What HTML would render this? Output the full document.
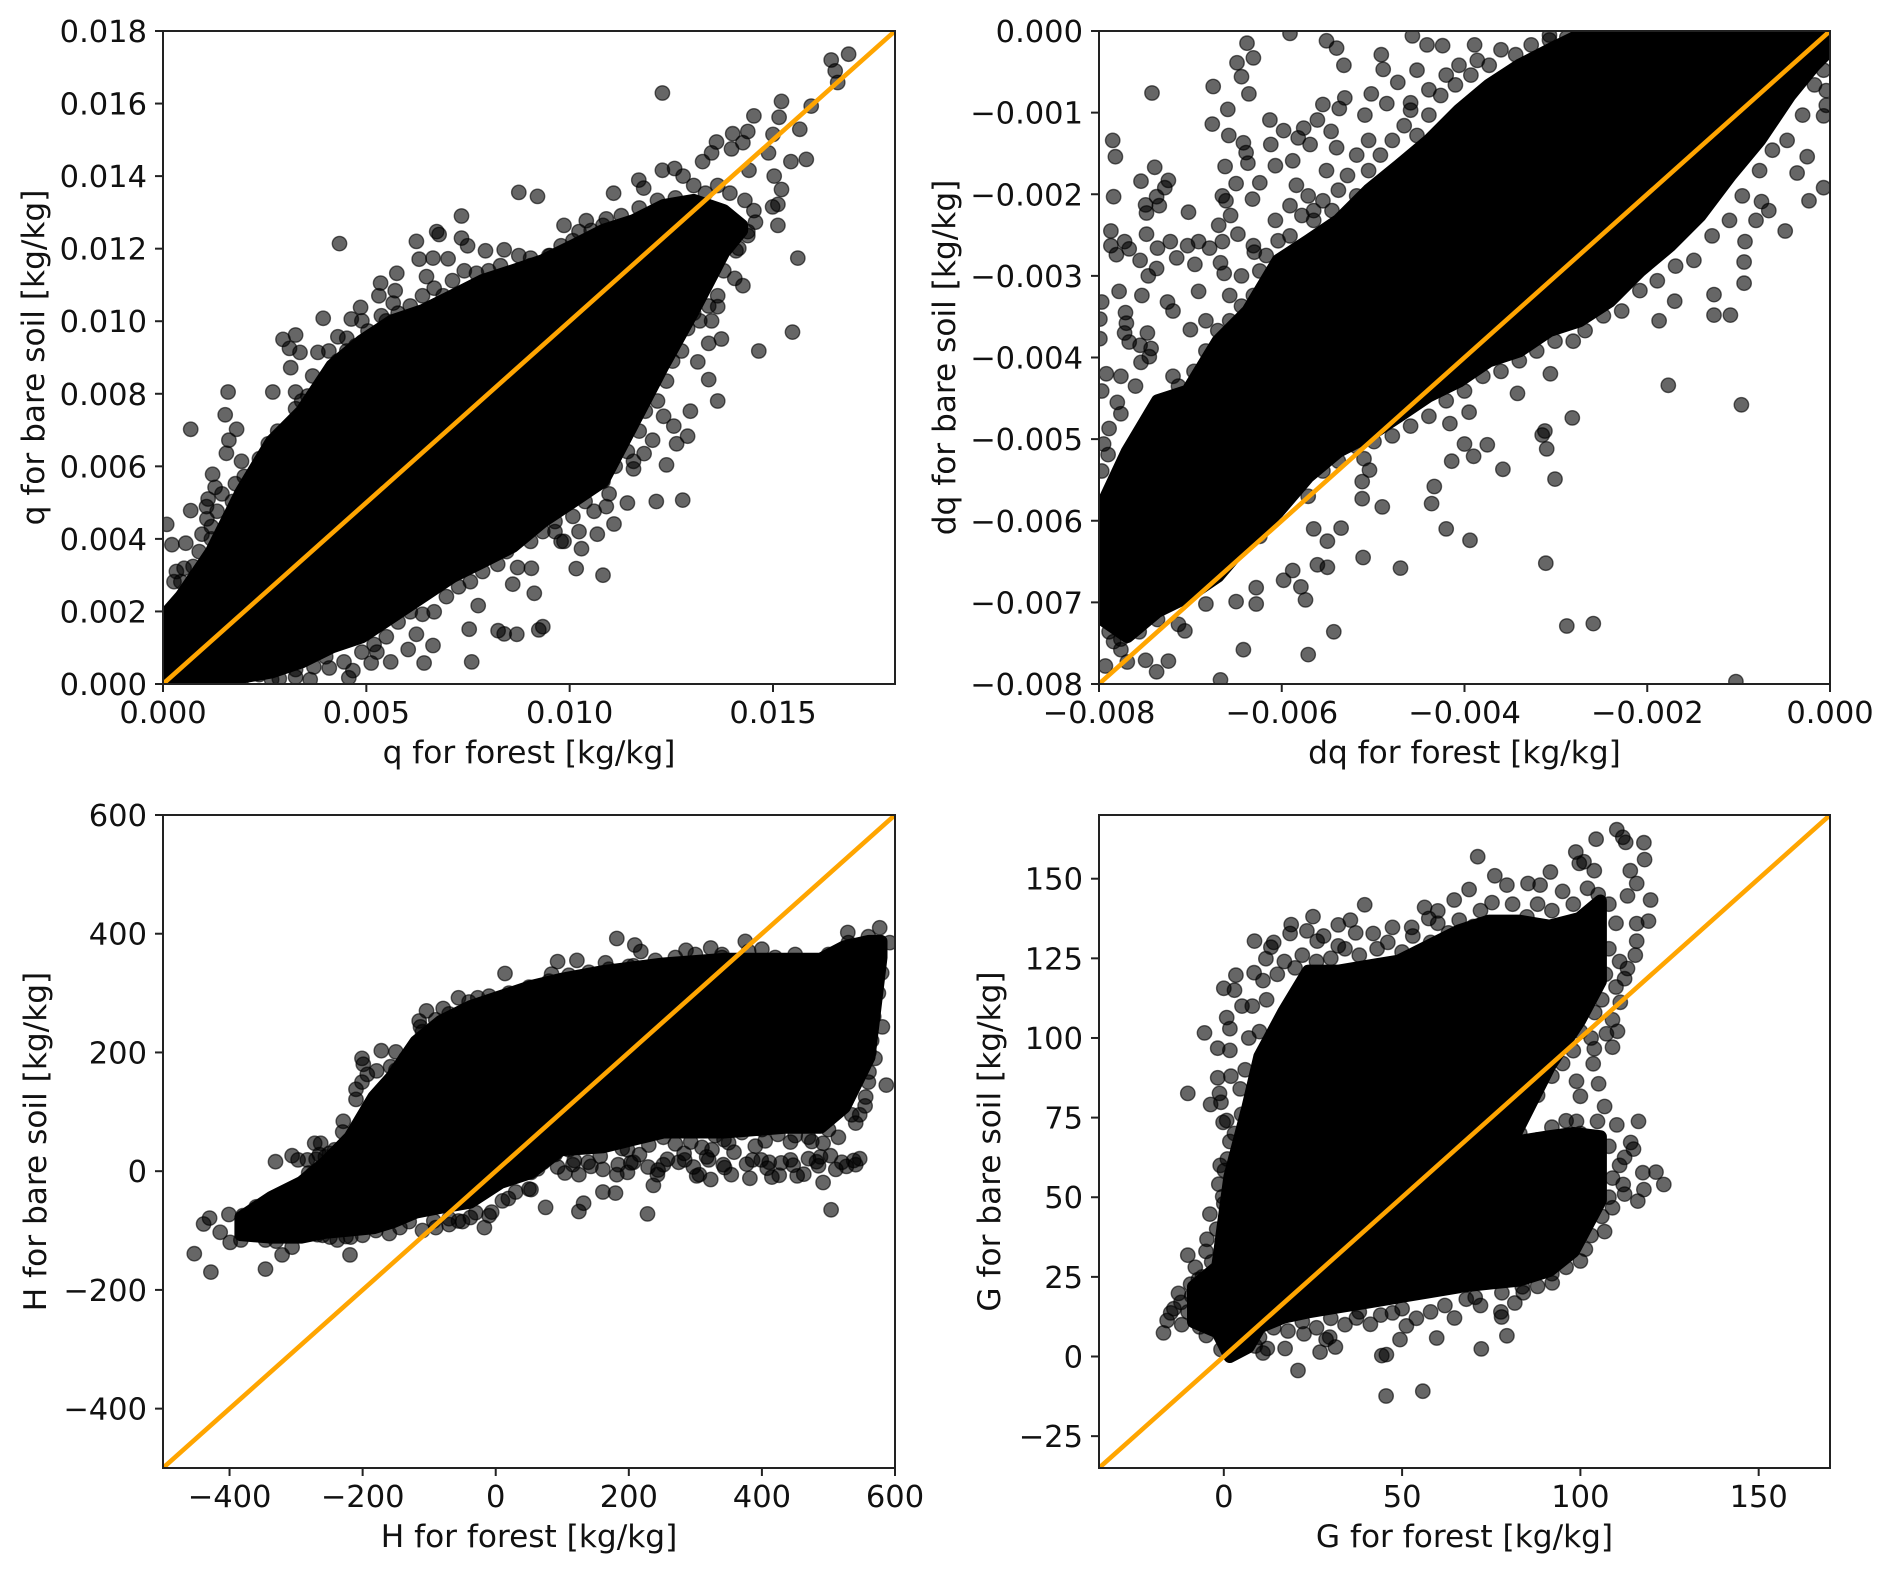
<!DOCTYPE html>
<html lang="en">
<head>
<meta charset="utf-8">
<title>Forest vs bare soil scatter comparison</title>
<style>
html,body{margin:0;padding:0;background:#fff;}
svg{display:block;}
text{font-family:"DejaVu Sans","Liberation Sans",sans-serif;fill:#111;}
</style>
</head>
<body>
<svg id="figure" xmlns="http://www.w3.org/2000/svg" width="1892" height="1572" viewBox="0 0 1892 1572"></svg>
<script>
/* ---------- q panel ---------- */
const qTicksX = [0, 0.005, 0.010, 0.015];
const qTickLabelsX = ["0.000","0.005","0.010","0.015"];
const qTicksY = [0,0.002,0.004,0.006,0.008,0.010,0.012,0.014,0.016,0.018];
const qTickLabelsY = ["0.000","0.002","0.004","0.006","0.008","0.010","0.012","0.014","0.016","0.018"];
const qCoreX = [0,.00044,.00119,.00193,.00267,.00341,.00415,.00489,.00563,.00638,.00712,.00786,.0086,.00934,.01008,.01082,.01157,.01231,.01305,.01379,.01423];
const qCoreHigh = [.00185,.00241,.00365,.00531,.00669,.00752,.00877,.00946,.01001,.01029,.0107,.01112,.01139,.01167,.01208,.0125,.01277,.01319,.01333,.01305,.01264];
const qCoreLow = [0,0,0,.00019,.00033,.00061,.00102,.0013,.00185,.00241,.00296,.00337,.00379,.00448,.00503,.00559,.0072,.0088,.0103,.0119,.0125];
const qForest = [.01686,.01643,.01653,.01659,.01228,.01521,.01594,.01515,.01453,.01566,.015,.01438,.01401,.01361,.01349,.01327,.01398,.01426,.01489,.01544,.01582,.01441,.01503,.01521,.01512,.01499,.01457,.01512,.01561,.01228,.01258,.01279,.0117,.01182,.00875,.00921,.01108,
.00434,.00623,.00673,.00679,.00734,.00734,.00749,.00793,.00839,.0063,.00664,.00701,.00648,.00575,.00535,.00531,.00571,.00566,.00486,.00394,.00463,.00537,.00295,.00326,.00311,.00337,.00381,.00314,.00408,.0043,.00452,.00368,.0016,.0027,.00153,.00068,.00181,.00162,.00156,.00326,.00341,.00259,.00193,.00122,.00128,.00178,.00111,.00107,.00068,.00145,.00108,.00009,.00022,.00056,.00096,.00033,.00027,.00052,
.01465,.01548,.01373,.01342,.01315,.01342,.01364,.01297,.0129,.01263,.01238,.01278,.01213,.01142,.01109,.01082,.01016,.01029,.01068,.00906,.00872,.0086,.00913,.00775,.00753,.00824,.0087,.00839,.00924,.00934,.00664,.00759,.00642,.0056,.00526,.00603,.00623,.00457,.00362,.00286,.00467,.00512,.00409,.00326,
.01406,.01426,.01305,.01349,.01364,.01416,.01438,.01256,.01204,.01183,.01157,.01097,.0106,.00986,.00964,.00986,.01023,.01041,.0109,.00952,.00904];
const qBare = [.01736,.0172,.0169,.01658,.01629,.01606,.01593,.01562,.01566,.01529,.01515,.01523,.01517,.01494,.01464,.0144,.01475,.01492,.01464,.0144,.01446,.01416,.014,.01363,.01322,.01315,.01273,.01264,.01174,.01416,.01421,.014,.01389,.01367,.01355,.01344,.01353,
.01214,.0122,.01247,.01239,.0129,.01229,.01208,.01194,.01197,.01171,.01174,.01172,.01123,.01132,.01105,.0107,.01084,.0105,.01038,.01008,.01006,.01015,.0095,.00962,.00925,.00914,.00914,.00872,.00918,.00957,.00953,.00849,.00805,.00805,.00742,.00702,.00702,.00672,.00636,.00805,.0078,.00662,.00614,.00578,.00542,.00552,.0051,.00489,.00478,.00524,.00455,.0044,.00384,.00388,.00413,.0031,.00282,.00319,
.00918,.0097,.00951,.00939,.00888,.00839,.0078,.00752,.00683,.00662,.00604,.00507,.00503,.00499,.00441,.003,.00318,.00373,.00413,.00319,.00321,.00275,.0025,.00216,.00151,.00147,.00137,.00138,.00149,.00158,.00106,.00061,.00058,.00061,.00088,.00095,.00137,.00017,.00012,.00015,.00037,.00058,.00044,.0004,
.01118,.01098,.01022,.01001,.0104,.01201,.01247,.00711,.00672,.00635,.00593,.00524,.00476,.00393,.0042,.01264,.01247,.01277,.01282,.01181,.01153];
const qEdgeForest = [.00044,.00074,.00089,.00119,.00148,.00178,.00119,.00133,.00171,.00193,.00222,.002,.00237,.00267,.00297,.00282,.00311,.00341,.00326,.00356,.00385,.00408,.0043,.00415,.00452,.00474,.00504,.00489,.00549,.00578,.00608,.00638,.00667,.00689,.00712,.00741,.00771,.00801,.0083,.00875,.00904,.00949,.00979,.01008,.01053,.01082,.01127,.01171,.01216,.0126,.01305,.01334,.01364,.01394,.01431,.01453,
.01438,.01409,.01379,.01364,.01342,.0132,.0129,.01275,.01253,.01238,.01216,.01231,.01186,.01171,.01142,.01157,.01112,.01082,.0109,.01038,.01008,.01023,.00964,.00979,.00934,.00904,.00875,.00845,.00823,.00786,.00756,.00727,.00697,.00667,.00638,.00608,.00578,.00549,.00519,.00489,.00445,.004,.00371,.00326,.00267,.00237,.00193,.00163,.00119];
const qEdgeBare = [.00282,.00324,.00365,.004,.0042,.00448,.00434,.00476,.00503,.00524,.00552,.00572,.00621,.00635,.00669,.00697,.00711,.00738,.00759,.00794,.00814,.00849,.0089,.0087,.00918,.00932,.00973,.01001,.01001,.01022,.01042,.0107,.01091,.0107,.01112,.01139,.01132,.01139,.01153,.01181,.01174,.01181,.01208,.01222,.0125,.01264,.01291,.01312,.01333,.0134,.01374,.01353,.01374,.01353,.01333,.01305,
.01236,.01194,.01139,.0107,.01042,.01001,.0098,.00918,.0089,.00835,.0078,.00738,.00752,.00697,.00641,.00614,.006,.00559,.00489,.00503,.00462,.0042,.00448,.00393,.0042,.00393,.0042,.00365,.0033,.0031,.00282,.00268,.00241,.00199,.00192,.00199,.00171,.0013,.00109,.00088,.00061,.00075,.00047,.00019,.00012,.00026,.00012,.00012,.00012];

/* ---------- dq panel ---------- */
const dqTicksX = [-0.008,-0.006,-0.004,-0.002,0];
const dqTickLabelsX = ["\u22120.008","\u22120.006","\u22120.004","\u22120.002","0.000"];
const dqTicksY = [-0.008,-0.007,-0.006,-0.005,-0.004,-0.003,-0.002,-0.001,0];
const dqTickLabelsY = ["\u22120.008","\u22120.007","\u22120.006","\u22120.005","\u22120.004","\u22120.003","\u22120.002","\u22120.001","0.000"];
const dqCoreX = [-.008,-.00769,-.00736,-.00703,-.0067,-.00637,-.00604,-.00571,-.00538,-.00505,-.00472,-.00439,-.00406,-.00373,-.0034,-.00307,-.00274,-.00241,-.00208,-.00175,-.00142,-.00109,-.00077,-.00044,-.00017,0];
const dqCoreHigh = [-.00589,-.00515,-.00453,-.00441,-.0038,-.00343,-.00281,-.00257,-.00232,-.00195,-.00165,-.00134,-.00097,-.00066,-.00042,-.00023,-.00005,0,0,0,0,0,0,0,0,0];
const dqCoreLow = [-.00718,-.00742,-.00711,-.00693,-.00668,-.00625,-.00589,-.00546,-.00515,-.00496,-.00472,-.00447,-.00429,-.00404,-.00392,-.00367,-.00355,-.00331,-.00294,-.00263,-.00226,-.00177,-.00134,-.00079,-.00042,-.00023];
const dqForest = [-.00742,-.00785,-.00782,-.00739,-.00784,-.00754,-.00724,-.00728,-.00749,-.00748,-.00737,-.00734,-.00702,-.00787,-.00748,-.00787,-.00781,-.00772,-.00767,-.00755,-.00736,-.00722,-.00715,-.00703,-.00691,-.00695,-.00679,-.00737,-.00746,-.00778,-.00753,-.00797,-.00799,-.00799,-.00771,-.0077,-.00772,-.00767,-.00747,-.00755,-.00743,-.00754,-.00745,-.00792,-.00776,-.00797,-.0076,-.0078,-.00776,-.00789,-.00795,-.0079,-.00797,-.00787,-.00789,-.00719,-.00719,-.00725,-.007,-.00691,
-.00675,-.00659,-.00676,-.00658,-.00638,-.00649,-.00631,-.00644,-.00636,-.00642,-.00639,-.00637,-.00662,-.0065,-.00665,-.00661,-.00632,-.00656,-.00669,-.00648,-.00665,-.00667,-.00663,-.0063,-.00591,-.00551,-.0054,-.00532,-.00531,-.00555,-.00537,-.00613,-.00598,-.00612,-.00576,-.00561,-.00582,-.00569,-.00546,-.00491,-.00489,-.00473,-.00457,-.00441,-.00424,-.00485,-.00502,-.00509,-.0054,-.00607,-.00588,-.00624,-.00551,-.00565,-.00452,-.00406,-.00389,-.00459,
-.00007,-.00023,-.00049,-.00036,-.00025,-.00007,-.00004,-.00075,-.00067,-.00081,-.00093,-.00094,-.00094,-.00127,-.00127,-.00109,-.0017,-.00187,-.00177,-.00097,-.00282,-.00312,-.00342,-.00306,-.00315,-.0031,-.00375,-.00301,-.00358,-.0039,-.004,-.00414,-.00395,-.00416,-.00433,-.00436,-.0042,-.00394,-.00311,-.0047,-.00511,-.0049,-.00512,-.00512,-.00504,-.0051,-.00535,-.00565,-.0055,-.00561,-.0055,-.00588,-.00598,-.00579,-.00574,-.00628,-.0065,-.00628,-.00683,-.00706,-.00713,-.00543,-.00571,-.00642,-.00288,-.00259,-.00103,-.00667,-.00724,-.00737,-.00793,-.00769,-.00749,-.00776,-.00784,-.00736,-.0072];
const dqBare = [-.00076,-.00134,-.00154,-.00167,-.00203,-.00184,-.00183,-.00192,-.00213,-.00223,-.00203,-.00214,-.00222,-.00245,-.00249,-.00263,-.00274,-.00258,-.00267,-.00281,-.00266,-.00258,-.00278,-.00263,-.00258,-.00286,-.00266,-.00291,-.003,-.00319,-.00324,-.00332,-.00353,-.00377,-.00345,-.00358,-.0037,-.00381,-.0037,-.00385,-.00389,-.00406,-.00399,-.0042,-.00423,-.00441,-.00435,-.00455,-.00469,-.00487,-.00506,-.00519,-.00539,-.00564,-.00581,-.00423,-.00343,-.00332,-.00366,-.00319,
-.00068,-.00096,-.00114,-.00128,-.00015,-.00039,-.00033,-.00056,-.00077,-.00137,-.00149,-.00162,-.00166,-.00187,-.00202,-.00208,-.00206,-.00226,-.00238,-.00249,-.00258,-.00284,-.00297,-.00271,-.00003,-.00012,-.00021,-.00042,-.00082,-.0009,-.00095,-.00109,-.00122,-.00139,-.00119,-.00109,-.00131,-.00139,-.00123,-.00029,-.00047,-.00063,-.00006,-.00017,-.00018,-.00089,-.00077,-.00103,-.00143,-.00165,-.00159,-.00186,-.00171,-.0022,-.00048,-.00042,-.00017,-.00088,
-.00192,-.00208,-.00245,-.00174,-.00154,-.00104,-.00073,-.00209,-.0022,-.00232,-.00258,-.00283,-.00309,-.00323,-.00348,-.00348,-.00331,-.00355,-.00434,-.00458,-.00474,-.0049,-.00444,-.0042,-.00495,-.00512,-.00507,-.00549,-.00537,-.00521,-.00506,-.00527,-.00467,-.00481,-.00558,-.00579,-.0061,-.00624,-.00652,-.00658,-.00645,-.00583,-.00573,-.00552,-.00538,-.00524,-.00609,-.0061,-.00625,-.00654,-.00657,-.00661,-.00673,-.00681,-.00697,-.00682,-.00699,-.00702,-.00702,-.00735,-.00727,-.00736,-.00764,-.00758,-.00729,-.00726,-.00797,-.00795,-.00772,-.00785,-.00778,-.00773,-.00771,-.00758,-.00748,-.00721,-.00678];
const dqEdgeForest = [-.00785,-.00776,-.00762,-.00749,-.00736,-.00726,-.00713,-.00696,-.00683,-.0067,-.00683,-.00657,-.00644,-.00657,-.00631,-.00644,-.00624,-.00604,-.00617,-.00631,-.00591,-.00607,-.00578,-.00591,-.00565,-.00555,-.00545,-.00538,-.00571,-.00584,-.00518,-.00505,-.00528,-.00518,-.00492,-.00479,-.00505,-.00466,-.00452,-.00439,-.00459,-.00426,-.0041,-.00439,-.0042,-.00393,-.00373,-.00386,-.0036,-.00344,-.00327,-.00307,-.00288,-.00334,-.00307,-.00281,
-.00789,-.00776,-.00756,-.00743,-.00723,-.00703,-.0069,-.0067,-.00657,-.00644,-.00624,-.00611,-.00591,-.00571,-.00555,-.00538,-.00518,-.00499,-.00479,-.00459,-.00439,-.0042,-.004,-.0038,-.0036,-.0034,-.00321,-.00301,-.00281,-.00268,-.00248,-.00228,-.00208,-.00189,-.00169,-.00149,-.00129,-.0011,-.00096,-.00077,-.00063,-.00047,-.0003,-.00017,-.00007,-.00004];
const dqEdgeBare = [-.00582,-.00552,-.00533,-.00503,-.00478,-.00453,-.00435,-.00417,-.00392,-.00367,-.00355,-.00355,-.00337,-.00324,-.00324,-.003,-.00294,-.00257,-.00275,-.00263,-.00251,-.00232,-.00226,-.00214,-.00232,-.00208,-.0022,-.00195,-.00202,-.00189,-.00202,-.00171,-.00177,-.00152,-.00152,-.00134,-.00134,-.00116,-.00128,-.00103,-.00097,-.00079,-.00066,-.00072,-.00054,-.00054,-.00042,-.00036,-.00023,-.00029,-.00017,-.00011,-.00008,-.00042,-.00005,-.00011,
-.00736,-.00745,-.00736,-.00708,-.00699,-.00681,-.00662,-.00656,-.00638,-.00625,-.00619,-.00595,-.00558,-.0057,-.00539,-.00527,-.00509,-.00503,-.00496,-.00484,-.00472,-.00453,-.00441,-.00423,-.00417,-.00404,-.00392,-.0038,-.0038,-.00367,-.00349,-.00343,-.00318,-.00306,-.00288,-.00281,-.00251,-.00232,-.00202,-.00171,-.00146,-.00134,-.00103,-.00066,-.00048,-.00091];

/* ---------- H panel ---------- */
const hTicksX = [-400,-200,0,200,400,600];
const hTickLabelsX = ["\u2212400","\u2212200","0","200","400","600"];
const hTicksY = [-400,-200,0,200,400,600];
const hTickLabelsY = ["\u2212400","\u2212200","0","200","400","600"];
const hCoreX = [-383,-337,-292,-256,-219,-183,-156,-120,-83,-38,7,53,98,161,252,343,434,488,524,561,579];
const hCoreHigh = [-78,-44,-19,15,57,125,159,218,252,277,294,311,323,336,349,357,357,357,378,387,387];
const hCoreLow = [-107,-111,-111,-103,-99,-95,-86,-69,-61,-52,-19,-2,36,41,66,66,74,74,108,192,360];
const hForest = [-453,-428,-346,-321,-306,-219,-439,-430,-414,-401,-399,-383,-346,-268,-249,-238,-218,-144,-331,-306,-297,-283,-272,-263,-281,-256,-230,-229,-201,-210,-199,-193,-179,-172,-150,-158,-210,-201,-115,-113,-104,-79,-56,-27,14,93,122,84,182,209,218,286,323,375,400,340,165,207,
577,529,592,580,581,587,541,515,492,547,541,520,511,488,492,504,485,453,470,443,429,411,415,399,386,382,354,323,284,237,228,180,75,125,132,-17,-38,-70,-93,-56,-6,19,53,161,
71,93,116,139,161,184,207,229,252,275,297,320,342,35,53,89,125,198,243,306,
561,556,561,561,556,547,470,443,424,405,343,325,293,252,198,-242,-265,-201];
const hBare = [-139,-170,-165,-141,-128,-141,-89,-79,-103,-73,-120,-116,-116,-107,-111,-116,-111,-95,16,26,19,19,47,47,-3,24,66,84,190,138,180,163,169,203,201,176,121,150,253,243,270,274,292,292,333,353,355,332,392,381,370,372,376,387,374,365,351,346,
410,402,385,334,243,145,81,57,47,21,11,15,3,24,-19,-65,9,-8,21,19,14,15,-10,19,19,-12,-6,-14,19,-24,-72,-37,-61,-68,-54,-95,-78,-90,-84,-84,-69,-46,-31,-35,
15,7,11,15,3,11,15,7,11,15,7,19,11,24,-2,28,-6,-2,-6,-6,
294,243,201,167,125,95,57,49,62,51,53,36,49,57,36,36,28,53];
const hEdgeForest = [22,38,63,78,104,118,143,157,182,203,216,244,258,283,302,317,344,358,377,408,426,447,463,482,503,527,538,30,70,110,150,190,230,270,310,350,390,
-380,-360,-345,-330,-310,-290,-275,-260,-240,-225,-200,-180,-160,-130,-110,-90,-70,-50,-30,-10,10,30,50,-270,-250,-230,-215,-200,-190,-170,-150,-135,-110,-90,-70,-40,-10,20,50,80,110,140,170,200,240,270,300,340,380,420,450,500,530,560,575,570,575,568,565,570,560,555,535,500,475,450,400,370,330];
const hEdgeBare = [12,26,4,22,-3,18,8,25,-6,14,28,2,20,30,-8,24,6,32,12,5,-7,10,-5,16,26,8,18,40,42,36,45,38,44,46,40,48,42,
-75,-60,-100,-118,-40,-105,-5,-108,-90,-110,-108,-100,-105,-85,-100,-95,-80,-85,-70,-75,-50,-35,-30,20,30,10,40,65,100,130,170,190,235,255,265,285,295,300,310,320,330,335,340,345,355,360,365,360,370,360,365,365,385,395,375,340,300,260,220,190,150,110,95,70,50,60,70,65,60];

/* ---------- G panel ---------- */
const gTicksX = [0,50,100,150];
const gTickLabelsX = ["0","50","100","150"];
const gTicksY = [-25,0,25,50,75,100,125,150];
const gTickLabelsY = ["\u221225","0","25","50","75","100","125","150"];
const gMainX = [-8.5,-1.7,1.7,6.8,10.1,16.9,23.7,32.1,40.6,49,57.5,65.9,74.4,82.8,91.3,99.7,105.6];
const gMainHigh = [21.9,28.2,56.5,78.5,94.2,108.4,121,121,122.6,124.1,128.9,133.6,136.7,136.7,135.1,137.5,143];
const gMainLow = [10.9,7.7,0,3,9.3,12.4,14,15.6,17.1,18.7,20.3,21.9,53.3,72.2,91.1,105.3,117.8];
const gLowerX = [65.9,74.4,82.8,91.3,98,105.6];
const gLowerHigh = [53,64,67.5,69,70,69];
const gLowerLow = [22,23,24,27,33,49];
const gForest = [110.2,111.9,112.7,117.8,118,104.4,98.7,99.7,101,103.9,91.6,71.2,76,79.4,68.8,64.6,75.2,85.3,88.7,114,115.8,113.2,119.7,119.1,115.8,115.8,115.4,113.2,112.4,111.2,109,110.4,107.3,109,103.9,103.6,98.9,105.1,100,106.8,98.9,110.2,116.3,104.8,114.1,114.9,112.4,121.2,117.5,123.4,117.8,116.1,109,112.4,106.8,101.4,92.1,83.7,81.6,77.9,77.7,70.5,79.4,72.2,64.7,59.7,55.8,45.5,44.3,45.6,49.4,51.2,47.3,41.1,37.2,31.3,28.7,27,29.7,22.5,20.8,17.2,12.2,11,8.8,-.8,
-16.9,-15.9,-12.7,-10.1,-14.9,-11.8,-4.9,-6.8,-9.3,-7.1,-4.7,-3.4,-3.9,-1.4,-.3,.2,.8,-.2,1.7,-.8,-3.7,-1.2,-1.7,-10.1,4.6,-1.7,1.7,-5.4,.8,1.7,5.1,0,3,3.4,8.5,8.6,13.2,11.8,18.9,18.6,25,23.3,26.2,32.1,35.5,39.5,32.1,47.3,41.9,52.7,56.3,57.5,60];
const gBare = [165.4,163,161.4,161.3,156,162.4,158.4,154.8,155.3,152.5,152.1,156.9,150.9,148,146.6,143.3,142.5,148.5,148,152.5,148.5,144.6,143.3,136.7,135.9,130.4,126,121.8,118.6,111.2,105.7,102.1,101.3,97.1,96.6,91.9,86.4,85.6,81.7,78.5,73.8,72.7,73.8,73.8,67.2,65.1,62.5,57.9,57.7,54,52.4,48.8,46.7,51,39.2,33.7,23.1,21.9,16.8,12.4,14,18.6,6.5,2.4,12.1,5.8,-10.9,-12.4,.3,.6,5.3,9.6,13.7,10.1,12.1,3,5.3,1.4,6.1,7.1,-4.4,2.5,2.5,1.1,3.3,2.2,
7.4,11.3,19.8,31.8,13.7,10,6.6,9.3,22.7,24.2,36.8,29.7,44.7,54.1,50.2,58.4,74.1,73.5,67.5,79.8,79.1,82.6,87.5,82.6,84,96.8,96.1,101.6,106.4,102.9,110,115.6,115,119.7,120.5,130.4,128.5,124.9,135.6,132.8,138.1,133.6,130.4,135.5,137,141.8,128.9,134.7,132.8,134.7,141,137.5,139.9];
const gEdgeForest = [-8,-5,-2,0,-1,1,3,5,2,6,7,10,8,12,11,15,17,14,20,22,26,30,28,34,38,37,43,46,50,53,58,60,63,66,70,72,78,81,85,88,92,95,98,102,105,108,110,108,111,107,110,106,104,100,103,98,95,92,88,84,80,83,88,92,96,100,104,108,111,109,112,108,106,103,100,96,92,88,84,78,72,68,62,58,54,50,44,38,34,30,26,22,18,14,10,7,4,-3,-6,-10,-12,-14,-9,-6];
const gEdgeBare = [28,33,40,48,60,62,70,76,88,90,100,102,110,112,118,120,124,130,122,126,124,125,132,128,126,133,128,130,127,132,130,136,133,137,135,140,136,142,138,142,140,146,142,147,145,142,136,128,124,120,116,112,108,102,100,96,92,88,82,78,74,70,68,72,74,70,68,66,60,56,54,50,44,38,30,28,26,22,20,20,16,18,16,14,12,15,13,14,10,12,9,11,8,9,6,8,3,10,11,14,17,15,19,25];

/* ---------- drawing ---------- */
const svgNS = "http://www.w3.org/2000/svg";
const figure = document.getElementById("figure");
const FONT = 30.5, TITLE_FONT = 31.2, TICK = 8;

function make(tag, attrs, parent){
  const el = document.createElementNS(svgNS, tag);
  for (const k in attrs) el.setAttribute(k, attrs[k]);
  parent.appendChild(el);
  return el;
}

function linearScale(d0, d1, r0, r1){
  return function(v){ return r0 + (v - d0) / (d1 - d0) * (r1 - r0); };
}

function drawPanel(p){
  const g = make("g", {}, figure);
  
  
  const sx = linearScale(p.xLim[0], p.xLim[1], p.left, p.right);
  const sy = linearScale(p.yLim[0], p.yLim[1], p.bottom, p.top);

  const clip = make("clipPath", {id: p.name + "-clip"}, g);
  make("rect", {x:p.left, y:p.top, width:p.right-p.left, height:p.bottom-p.top}, clip);

  const plot = make("g", {"clip-path":"url(#" + p.name + "-clip)"}, g);
  
  

  p.bands.forEach(function(b){
    const pts = [];
    b.x.forEach(function(v,i){ pts.push(sx(v).toFixed(1) + "," + sy(b.high[i]).toFixed(1)); });
    for (let i = b.x.length - 1; i >= 0; i--) pts.push(sx(b.x[i]).toFixed(1) + "," + sy(b.low[i]).toFixed(1));
    const poly = make("polygon", {points:pts.join(" "), fill:"#000", stroke:"#000", "stroke-width":13, "stroke-linejoin":"round"}, plot);
    
    
  });

  p.px.forEach(function(v,i){
    const c = make("circle", {cx:sx(v).toFixed(1), cy:sy(p.py[i]).toFixed(1), r:7.2, fill:"rgba(0,0,0,0.6)", stroke:"rgba(0,0,0,0.6)", "stroke-width":1.4}, plot);
    
    
  });

  const diagMin = Math.max(p.xLim[0], p.yLim[0]);
  const diagMax = Math.min(p.xLim[1], p.yLim[1]);
  const diag = make("line", {x1:sx(diagMin), y1:sy(diagMin), x2:sx(diagMax), y2:sy(diagMax), stroke:"#ffa500", "stroke-width":4.6}, plot);
  
  

  const frame = make("rect", {x:p.left, y:p.top, width:p.right-p.left, height:p.bottom-p.top, fill:"none", stroke:"#222", "stroke-width":2}, g);
  
  

  p.xTicks.forEach(function(v,i){
    const x = sx(v);
    const t = make("line", {x1:x, y1:p.bottom, x2:x, y2:p.bottom+TICK, stroke:"#222", "stroke-width":2}, g);
    
    
    const l = make("text", {x:x, y:p.bottom+39, "text-anchor":"middle", "font-size":FONT}, g);
    l.textContent = p.xLabels[i];
    
    
  });
  p.yTicks.forEach(function(v,i){
    const y = sy(v);
    const t = make("line", {x1:p.left-TICK, y1:y, x2:p.left, y2:y, stroke:"#222", "stroke-width":2}, g);
    
    
    const l = make("text", {x:p.left-16, y:y+11, "text-anchor":"end", "font-size":FONT}, g);
    l.textContent = p.yLabels[i];
    
    
  });

  const xt = make("text", {x:(p.left+p.right)/2, y:p.bottom+79, "text-anchor":"middle", "font-size":TITLE_FONT}, g);
  xt.textContent = p.xTitle;
  
  
  const cy = (p.top+p.bottom)/2;
  const yt = make("text", {x:0, y:0, "text-anchor":"middle", "font-size":TITLE_FONT, transform:"translate(" + p.yTitleX + "," + cy + ") rotate(-90)"}, g);
  yt.textContent = p.yTitle;
  
  
}

drawPanel({name:"q", left:163, right:895, top:31, bottom:684, xLim:[0,0.018], yLim:[0,0.018],
  xTicks:qTicksX, xLabels:qTickLabelsX, yTicks:qTicksY, yLabels:qTickLabelsY,
  bands:[{x:qCoreX, high:qCoreHigh, low:qCoreLow}], px:qForest.concat(qEdgeForest), py:qBare.concat(qEdgeBare),
  xTitle:"q for forest [kg/kg]", yTitle:"q for bare soil [kg/kg]", yTitleX:44});
drawPanel({name:"dq", left:1099, right:1830, top:31, bottom:684, xLim:[-0.008,0], yLim:[-0.008,0],
  xTicks:dqTicksX, xLabels:dqTickLabelsX, yTicks:dqTicksY, yLabels:dqTickLabelsY,
  bands:[{x:dqCoreX, high:dqCoreHigh, low:dqCoreLow}], px:dqForest.concat(dqEdgeForest), py:dqBare.concat(dqEdgeBare),
  xTitle:"dq for forest [kg/kg]", yTitle:"dq for bare soil [kg/kg]", yTitleX:955});
drawPanel({name:"h", left:163, right:895, top:815, bottom:1468, xLim:[-500,600], yLim:[-500,600],
  xTicks:hTicksX, xLabels:hTickLabelsX, yTicks:hTicksY, yLabels:hTickLabelsY,
  bands:[{x:hCoreX, high:hCoreHigh, low:hCoreLow}], px:hForest.concat(hEdgeForest), py:hBare.concat(hEdgeBare),
  xTitle:"H for forest [kg/kg]", yTitle:"H for bare soil [kg/kg]", yTitleX:46});
drawPanel({name:"g", left:1099, right:1830, top:815, bottom:1468, xLim:[-35,170], yLim:[-35,170],
  xTicks:gTicksX, xLabels:gTickLabelsX, yTicks:gTicksY, yLabels:gTickLabelsY,
  bands:[{x:gMainX, high:gMainHigh, low:gMainLow},{x:gLowerX, high:gLowerHigh, low:gLowerLow}], px:gForest.concat(gEdgeForest), py:gBare.concat(gEdgeBare),
  xTitle:"G for forest [kg/kg]", yTitle:"G for bare soil [kg/kg]", yTitleX:1000});
</script>
</body>
</html>
